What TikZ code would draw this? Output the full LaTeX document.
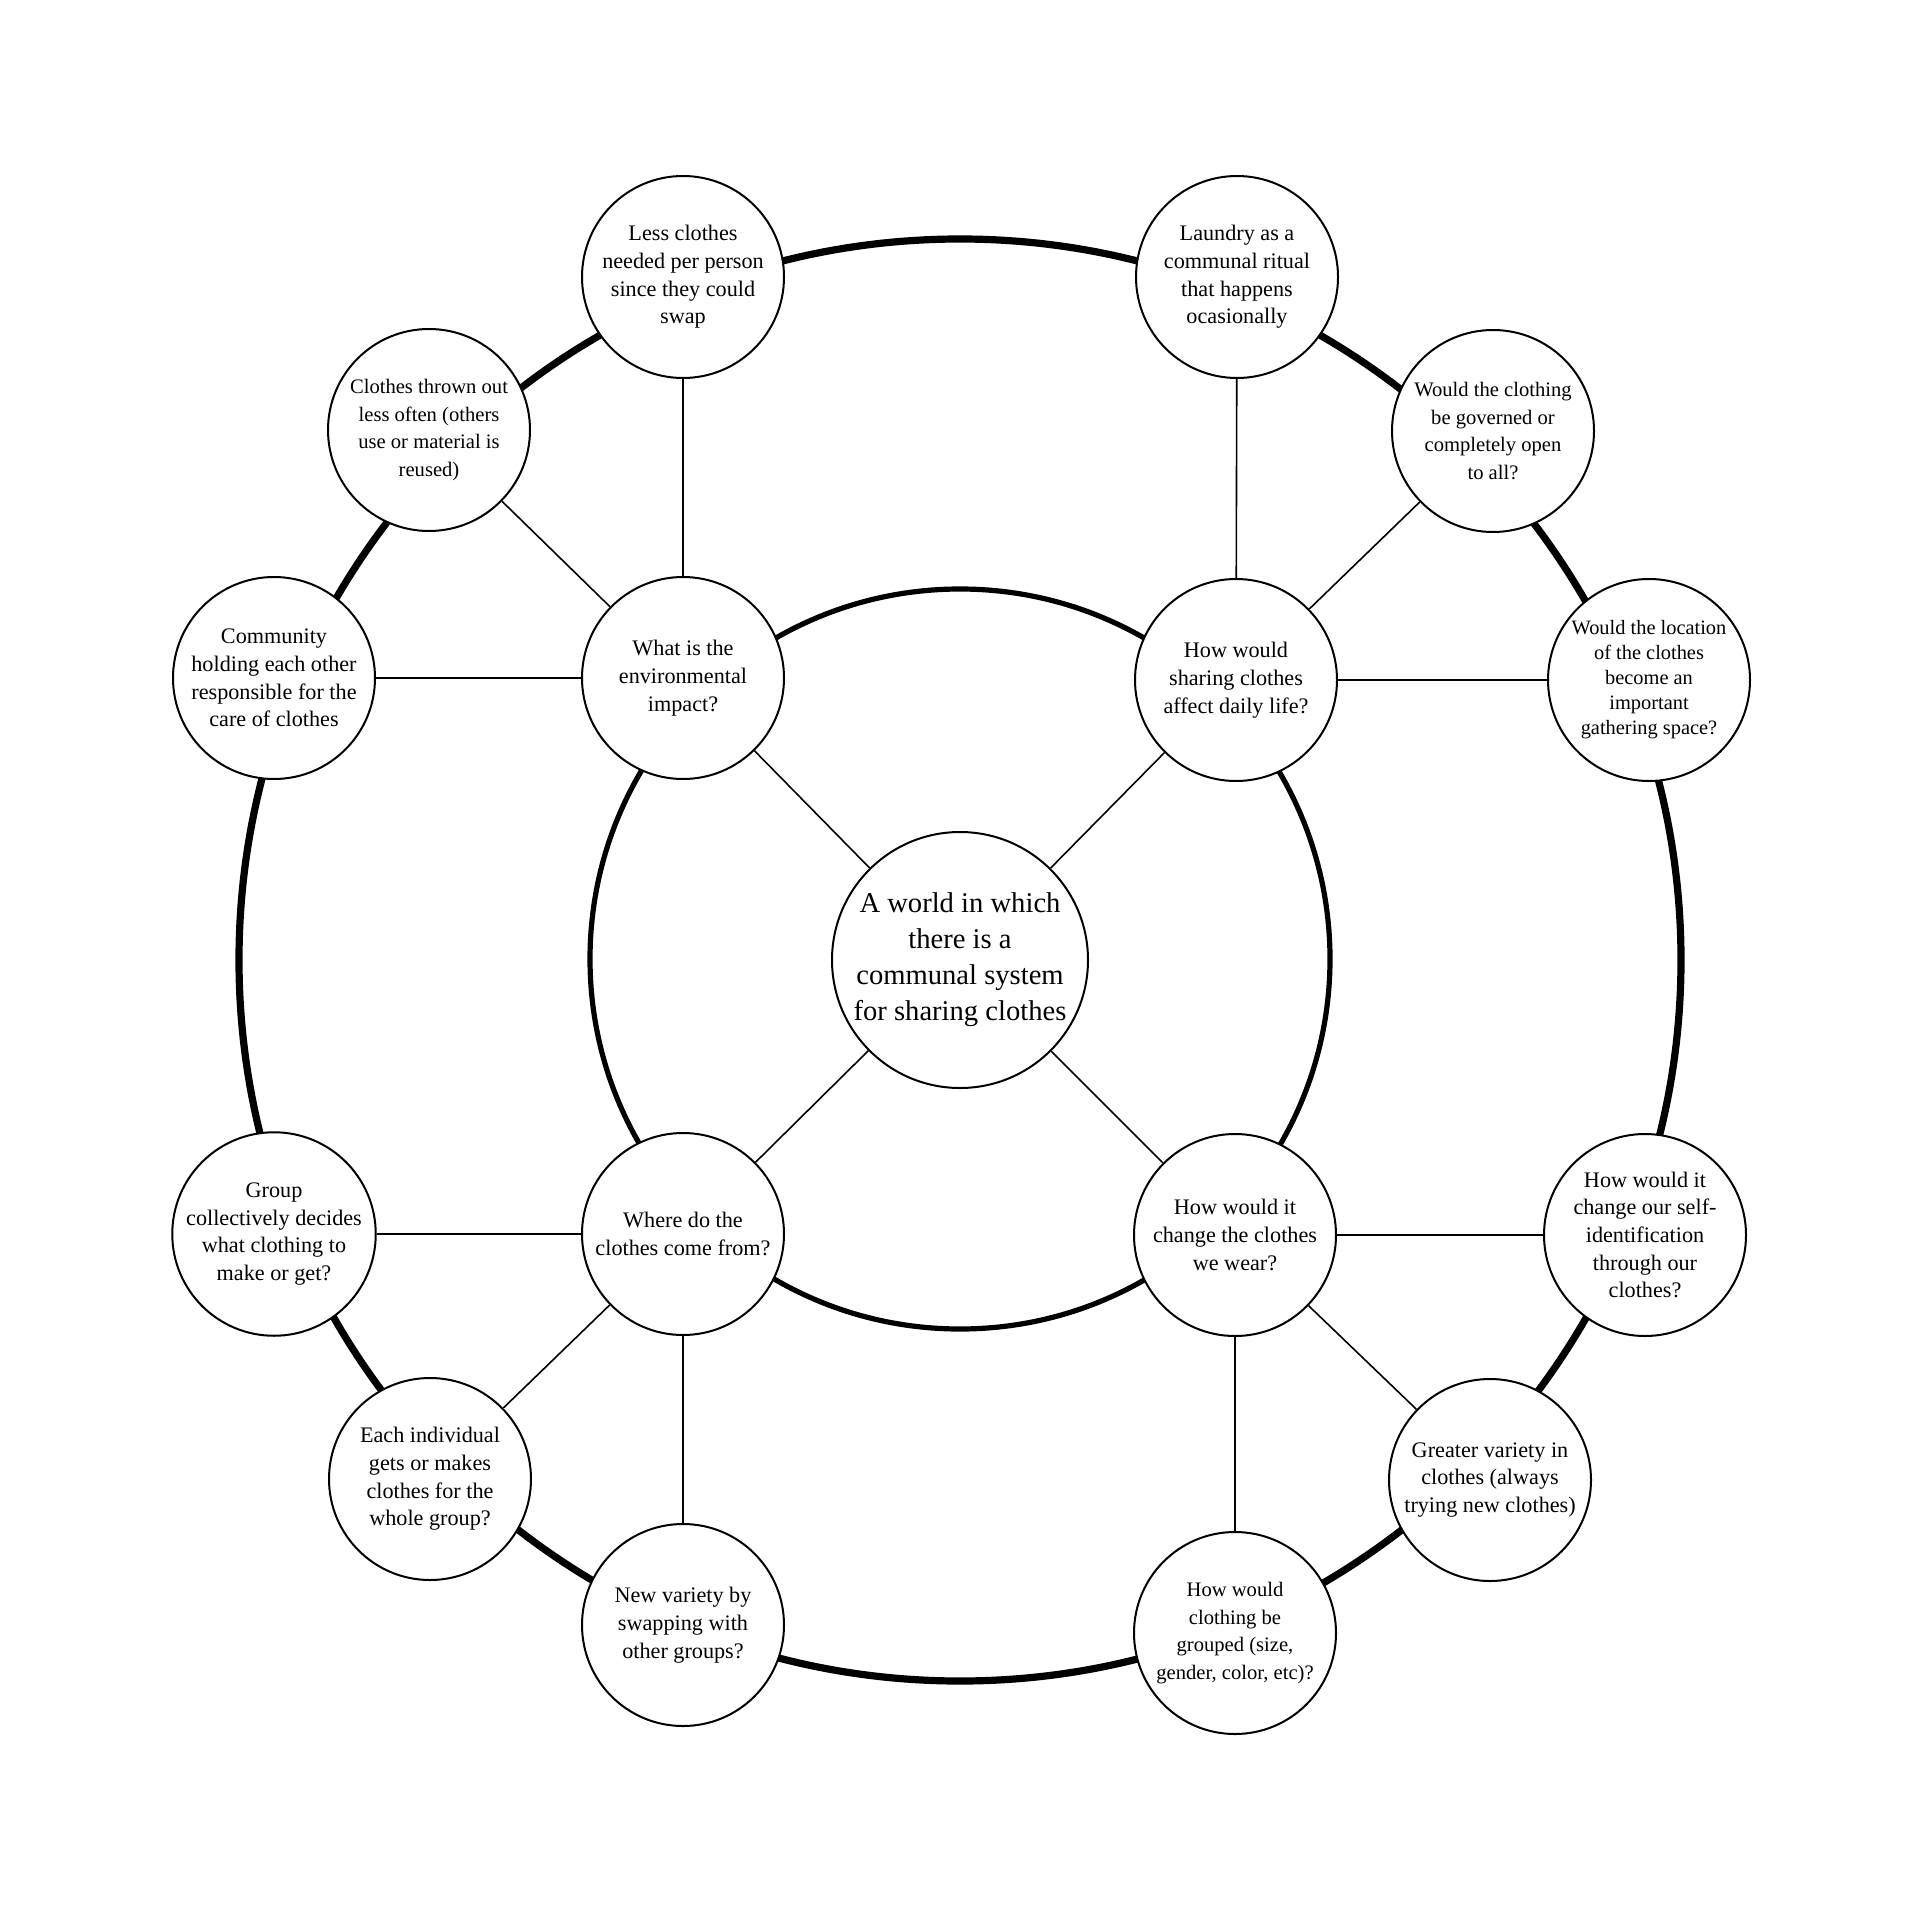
\documentclass[tikz,border=0pt]{standalone}
\usepackage{fontspec}
\setmainfont{Liberation Serif}
\begin{document}
\begin{tikzpicture}[x=0.5pt,y=-0.5pt,
  bub/.style={circle,draw,line width=1pt,fill=white,minimum size=101pt,inner sep=0pt,align=center,font=\fontsize{11.1}{13.85}\selectfont},
  tightbub/.style={bub,font=\fontsize{10.3}{13.85}\selectfont},
  smallbub/.style={bub,font=\fontsize{10.2}{12.5}\selectfont},
  hub/.style={bub,minimum size=128pt,font=\fontsize{14.3}{18}\selectfont},
  link/.style={line width=0.8pt},
  outerring/.style={line width=3.6pt},
  innerring/.style={line width=2.6pt}]
\useasboundingbox (0,0) rectangle (1920,1920);
\fill[white] (0,0) rectangle (1920,1920);
\draw[outerring] (960,960) circle[radius=721];
\draw[innerring] (960,959) circle[radius=370];

\node[hub] (C) at (960,960) {A world in which\\there is a\\communal system\\for sharing clothes};

\node[bub] (E) at (683,678) {What is the\\environmental\\impact?};
\node[bub] (D) at (1236,680) {How would\\sharing clothes\\affect daily life?};
\node[bub] (W) at (683,1234) {Where do the\\clothes come from?};
\node[bub] (H) at (1235,1235) {How would it\\change the clothes\\we wear?};

\node[bub] (less) at (683,277) {Less clothes\\needed per person\\since they could\\swap};
\node[bub] (laundry) at (1237,277) {Laundry as a\\communal ritual\\that happens\\ocasionally};
\node[tightbub] (thrown) at (429,430) {Clothes thrown out\\less often (others\\use or material is\\reused)};
\node[tightbub] (governed) at (1493,431) {Would the clothing\\be governed or\\completely open\\to all?};
\node[bub] (community) at (274,678) {Community\\holding each other\\responsible for the\\care of clothes};
\node[smallbub] (location) at (1649,680) {Would the location\\of the clothes\\become an\\important\\gathering space?};
\node[bub] (group) at (274,1234) {Group\\collectively decides\\what clothing to\\make or get?};
\node[bub] (selfid) at (1645,1235) {How would it\\change our self-\\identification\\through our\\clothes?};
\node[bub] (each) at (430,1479) {Each individual\\gets or makes\\clothes for the\\whole group?};
\node[bub] (greater) at (1490,1480) {Greater variety in\\clothes (always\\trying new clothes)};
\node[bub] (newvar) at (683,1625) {New variety by\\swapping with\\other groups?};
\node[tightbub] (grouped) at (1235,1633) {How would\\clothing be\\grouped (size,\\gender, color, etc)?};

\draw[link] (C) -- (E);
\draw[link] (C) -- (D);
\draw[link] (C) -- (W);
\draw[link] (C) -- (H);

\draw[link] (E) -- (less);
\draw[link] (E) -- (thrown);
\draw[link] (E) -- (community);
\draw[link] (D) -- (laundry);
\draw[link] (D) -- (governed);
\draw[link] (D) -- (location);
\draw[link] (W) -- (group);
\draw[link] (W) -- (each);
\draw[link] (W) -- (newvar);
\draw[link] (H) -- (selfid);
\draw[link] (H) -- (greater);
\draw[link] (H) -- (grouped);
\end{tikzpicture}
\end{document}
